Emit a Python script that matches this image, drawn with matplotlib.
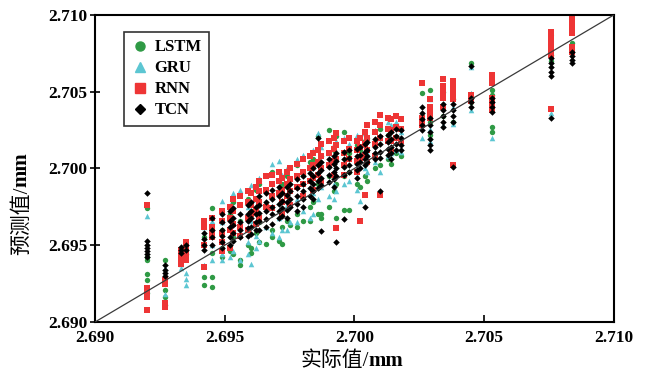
#!/usr/bin/env python3
"""Predicted vs actual scatter for LSTM / GRU / RNN / TCN."""
import matplotlib
matplotlib.use("Agg")
import matplotlib.pyplot as plt
from matplotlib.lines import Line2D

# actual values (one entry per column of samples)
actual = [
    2.6920, 2.6927, 2.6933, 2.6935, 2.6942, 2.6945,
    2.6949, 2.6952, 2.6953, 2.6956, 2.6959, 2.6960, 2.6962, 2.6963, 2.6966, 2.6968,
    2.6971, 2.6972, 2.6974, 2.6975, 2.6978, 2.6980, 2.6983, 2.6984, 2.6986, 2.6987,
    2.6990, 2.6992, 2.6993, 2.6996, 2.6998, 2.7001, 2.7002, 2.7004, 2.7005, 2.7008,
    2.7010, 2.7013, 2.7014, 2.7016, 2.7018,
    2.7026, 2.7029, 2.7034, 2.7038, 2.7045, 2.7053, 2.7076, 2.7084,
]

lstm = [
    [2.6974, 2.6942, 2.6940, 2.6931, 2.6927, 2.6919],
    [2.6940, 2.6921, 2.6916, 2.6911],
    [2.6941],
    [2.6944],
    [2.6955, 2.6929, 2.6924],
    [2.6974, 2.6945, 2.6929, 2.6923],
    [2.6960, 2.6948, 2.6942],
    [2.6970, 2.6946],
    [2.6978, 2.6955, 2.6944],
    [2.6966, 2.6940, 2.6937],
    [2.6980, 2.6950],
    [2.6972, 2.6948, 2.6945],
    [2.6986, 2.6958],
    [2.6990, 2.6965, 2.6952],
    [2.6976, 2.6951],
    [2.6998, 2.6960, 2.6955],
    [2.6985, 2.6953],
    [2.6990, 2.6962, 2.6951],
    [2.6995, 2.6966],
    [2.6985, 2.6963],
    [2.7002, 2.6970, 2.6962],
    [2.6996, 2.6966],
    [2.7004, 2.6975, 2.6966],
    [2.7006, 2.6978],
    [2.7021, 2.6990, 2.6970],
    [2.7008, 2.6970, 2.6968],
    [2.7025, 2.6995, 2.6975],
    [2.7012, 2.6985],
    [2.7021, 2.6968, 2.6990],
    [2.7024, 2.6995, 2.6973],
    [2.7010, 2.6998, 2.6973],
    [2.7015, 2.6990],
    [2.7012, 2.6988],
    [2.7018, 2.6995],
    [2.7020, 2.6992],
    [2.7015, 2.7000],
    [2.7026, 2.7002],
    [2.7022, 2.7006],
    [2.7025, 2.7003],
    [2.7028, 2.7010],
    [2.7026, 2.7008],
    [2.7049, 2.7028],
    [2.7051, 2.7030, 2.7022],
    [2.7050, 2.7034],
    [2.7045, 2.7030],
    [2.7069, 2.7046, 2.7043],
    [2.7051, 2.7048, 2.7027, 2.7024],
    [2.7074, 2.7070],
    [2.7082],
]

gru = [
    [2.6969, 2.6923, 2.6921],
    [2.6935, 2.6918],
    [2.6938, 2.6935],
    [2.6932, 2.6928, 2.6924],
    [2.6962, 2.6937],
    [2.6966, 2.6950, 2.6940],
    [2.6979, 2.6965, 2.6944, 2.6940],
    [2.6976, 2.6950, 2.6942],
    [2.6984, 2.6958, 2.6946],
    [2.6986, 2.6962, 2.6940],
    [2.6975, 2.6952, 2.6944],
    [2.6989, 2.6966, 2.6938],
    [2.6980, 2.6956, 2.6948],
    [2.6994, 2.6970, 2.6953],
    [2.6996, 2.6962],
    [2.7003, 2.6975, 2.6958],
    [2.7005, 2.6968, 2.6955],
    [2.6996, 2.6960],
    [2.7000, 2.6976, 2.6960],
    [2.6994, 2.6965],
    [2.7006, 2.6980, 2.6965],
    [2.7009, 2.6972],
    [2.7000, 2.6968],
    [2.7012, 2.6984, 2.6970],
    [2.7023, 2.6980],
    [2.7014, 2.6988],
    [2.7010, 2.6982],
    [2.7016, 2.6990, 2.6980],
    [2.7018, 2.6985],
    [2.7020, 2.6990],
    [2.7016, 2.6992],
    [2.7022, 2.6995, 2.6986],
    [2.7008, 2.6979],
    [2.7023, 2.7000],
    [2.7010, 2.6998],
    [2.7025, 2.7004],
    [2.7020, 2.6998],
    [2.7030, 2.7008],
    [2.7028, 2.7010],
    [2.7030, 2.7012],
    [2.7024, 2.7011],
    [2.7036, 2.7020],
    [2.7045, 2.7026, 2.7018],
    [2.7042, 2.7028],
    [2.7040, 2.7029],
    [2.7066, 2.7049, 2.7038],
    [2.7020],
    [2.7089, 2.7073, 2.7036],
    [2.7080],
]

rnn = [
    [2.6976, 2.6922, 2.6919, 2.6916, 2.6908],
    [2.6927, 2.6925, 2.6912, 2.6910],
    [2.6947, 2.6943, 2.6940, 2.6938],
    [2.6952, 2.6948, 2.6944, 2.6940],
    [2.6966, 2.6962, 2.6950, 2.6936],
    [2.6968, 2.6962, 2.6958, 2.6955],
    [2.6972, 2.6966, 2.6958, 2.6952, 2.6946],
    [2.6975, 2.6968, 2.6960, 2.6948],
    [2.6980, 2.6972, 2.6964, 2.6958],
    [2.6982, 2.6976, 2.6962, 2.6956],
    [2.6985, 2.6978, 2.6968, 2.6960],
    [2.6984, 2.6976, 2.6970],
    [2.6988, 2.6980, 2.6972, 2.6964],
    [2.6992, 2.6985, 2.6978, 2.6968],
    [2.6995, 2.6986, 2.6975],
    [2.6996, 2.6990, 2.6982, 2.6974],
    [2.6998, 2.6992, 2.6984],
    [2.6994, 2.6986, 2.6978, 2.6970],
    [2.6998, 2.6990, 2.6982],
    [2.7000, 2.6993, 2.6985, 2.6976],
    [2.7003, 2.6995, 2.6988],
    [2.7006, 2.6998, 2.6990, 2.6982],
    [2.7008, 2.7000, 2.6992],
    [2.7010, 2.7002, 2.6994, 2.6986],
    [2.7012, 2.7004, 2.6996],
    [2.7016, 2.7008, 2.7000, 2.6992],
    [2.7018, 2.7010, 2.7002],
    [2.7020, 2.7013, 2.7005, 2.6996],
    [2.7023, 2.7015, 2.7006, 2.6961],
    [2.7018, 2.7010, 2.7002, 2.6996],
    [2.7020, 2.7013, 2.7006],
    [2.7018, 2.7012, 2.7005, 2.6998],
    [2.7020, 2.7014, 2.7007, 2.6966],
    [2.7024, 2.7016, 2.7009, 2.6983],
    [2.7028, 2.7020, 2.7012, 2.7004],
    [2.7030, 2.7024, 2.7016, 2.7008],
    [2.7035, 2.7028, 2.7020, 2.6983],
    [2.7033, 2.7026, 2.7018],
    [2.7032, 2.7025, 2.7018, 2.7012],
    [2.7034, 2.7027, 2.7020],
    [2.7032, 2.7026, 2.7018],
    [2.7056, 2.7033, 2.7030, 2.7028],
    [2.7045, 2.7040, 2.7036, 2.7033],
    [2.7058, 2.7054, 2.7050, 2.7046, 2.7040],
    [2.7057, 2.7053, 2.7049, 2.7045, 2.7002],
    [2.7048, 2.7044],
    [2.7061, 2.7058, 2.7056, 2.7046, 2.7042, 2.7038],
    [2.7089, 2.7086, 2.7083, 2.7080, 2.7077, 2.7074, 2.7039],
    [2.7099, 2.7095, 2.7091, 2.7088, 2.7079, 2.7076],
]

tcn = [
    [2.6984, 2.6953, 2.6950, 2.6948, 2.6946, 2.6944, 2.6942],
    [2.6937, 2.6934, 2.6932, 2.6930],
    [2.6949, 2.6947, 2.6945],
    [2.6950, 2.6947],
    [2.6958, 2.6954, 2.6950, 2.6947],
    [2.6968, 2.6960, 2.6955, 2.6950],
    [2.6970, 2.6965, 2.6960, 2.6956, 2.6952, 2.6948],
    [2.6972, 2.6966, 2.6962, 2.6955, 2.6950],
    [2.6974, 2.6968, 2.6963, 2.6958, 2.6953],
    [2.6970, 2.6965, 2.6960, 2.6955],
    [2.6976, 2.6970, 2.6966, 2.6961, 2.6956],
    [2.6978, 2.6972, 2.6968, 2.6962, 2.6957],
    [2.6975, 2.6970, 2.6965, 2.6960],
    [2.6982, 2.6976, 2.6971, 2.6966, 2.6960],
    [2.6984, 2.6978, 2.6972, 2.6967, 2.6962],
    [2.6986, 2.6980, 2.6975, 2.6970, 2.6964],
    [2.6988, 2.6982, 2.6977, 2.6972, 2.6968],
    [2.6984, 2.6979, 2.6974, 2.6969],
    [2.6988, 2.6983, 2.6978, 2.6973, 2.6968],
    [2.6990, 2.6985, 2.6980, 2.6975],
    [2.6993, 2.6987, 2.6982, 2.6977, 2.6972],
    [2.6995, 2.6990, 2.6985, 2.6980, 2.6975],
    [2.6997, 2.6992, 2.6987, 2.6982],
    [2.7000, 2.6995, 2.6990, 2.6985, 2.6980],
    [2.7020, 2.7002, 2.6997, 2.6992, 2.6987],
    [2.7004, 2.6999, 2.6994, 2.6989, 2.6959],
    [2.7006, 2.7001, 2.6996, 2.6991],
    [2.7008, 2.7003, 2.6998, 2.6993, 2.6988],
    [2.7010, 2.7005, 2.7000, 2.6995, 2.6952],
    [2.7011, 2.7006, 2.7001, 2.6996, 2.6967],
    [2.7012, 2.7007, 2.7002, 2.6998],
    [2.7013, 2.7008, 2.7003, 2.6999, 2.6994],
    [2.7014, 2.7009, 2.7004, 2.7000],
    [2.7016, 2.7011, 2.7006, 2.7002, 2.6975],
    [2.7017, 2.7012, 2.7008, 2.7004],
    [2.7019, 2.7014, 2.7010, 2.7006],
    [2.7021, 2.7016, 2.7011, 2.7007, 2.6985],
    [2.7022, 2.7017, 2.7013, 2.7009],
    [2.7024, 2.7019, 2.7014, 2.7010, 2.7006],
    [2.7026, 2.7021, 2.7016, 2.7012],
    [2.7025, 2.7020, 2.7015, 2.7012],
    [2.7040, 2.7036, 2.7032, 2.7028, 2.7025],
    [2.7033, 2.7028, 2.7024, 2.7019, 2.7015, 2.7012],
    [2.7042, 2.7038, 2.7034, 2.7030, 2.7027],
    [2.7042, 2.7038, 2.7034, 2.7030, 2.7001],
    [2.7067, 2.7046, 2.7043, 2.7040],
    [2.7046, 2.7043, 2.7040, 2.7037],
    [2.7072, 2.7069, 2.7066, 2.7063, 2.7060, 2.7033],
    [2.7076, 2.7073, 2.7071, 2.7069],
]

ticks = [2.690, 2.695, 2.700, 2.705, 2.710]

plt.rcParams["font.family"] = ["Liberation Serif", "Noto Sans CJK SC"]


def flatten(preds):
    xs, ys = [], []
    for a, col in zip(actual, preds):
        for v in col:
            xs.append(a)
            ys.append(v)
    return xs, ys


fig = plt.figure(figsize=(6.48, 3.76), dpi=100)
ax = fig.add_axes([0.147, 0.144, 0.800, 0.816])

series = [
    ("LSTM", lstm, "#2f9a45", "o", 15),
    ("GRU", gru, "#5cc6d2", "^", 16),
    ("RNN", rnn, "#ee3535", "s", 14),
    ("TCN", tcn, "#000000", "D", 11),
]
for name, preds, color, marker, size in series:
    xs, ys = flatten(preds)
    ax.scatter(xs, ys, s=size, c=color, marker=marker, linewidths=0, zorder=2)

ax.plot([ticks[0], ticks[-1]], [ticks[0], ticks[-1]], color="#3a3a3a", lw=0.9, zorder=3)

ax.set_xlim(2.690, 2.710)
ax.set_ylim(2.690, 2.710)
ax.set_xticks(ticks)
ax.set_yticks(ticks)
ax.set_xticklabels([f"{t:.3f}" for t in ticks], fontsize=12.5, fontweight="bold")
ax.set_yticklabels([f"{t:.3f}" for t in ticks], fontsize=12.5, fontweight="bold")
ax.tick_params(axis="x", direction="in", length=5, width=1.2, pad=6)
ax.tick_params(axis="y", direction="inout", length=7, width=1.2, pad=2)
for sp in ax.spines.values():
    sp.set_linewidth(1.5)

# axis labels: Chinese part regular, "mm" bold serif
xl = ax.annotate("实际值/", xy=(0.527, -0.127), xycoords="axes fraction",
                 ha="right", va="center", fontsize=15)
ax.annotate("mm", xy=(1, 0.5), xycoords=xl, ha="left", va="center",
            fontsize=15, fontweight="bold", family="Liberation Serif")
yl = ax.annotate("预测值/", xy=(-0.1415, 0.441), xycoords="axes fraction",
                 ha="center", va="top", rotation=90, fontsize=15)
ax.annotate("mm", xy=(0.5, 1), xycoords=yl, ha="center", va="bottom", rotation=90,
            fontsize=15, fontweight="bold", family="Liberation Serif")

handles = [Line2D([], [], ls="none", marker=m, color=c, markersize=6.5 if m != "D" else 5.5)
           for _, _, c, m, _ in series]
leg = ax.legend(handles, [s[0] for s in series], loc="upper left",
                bbox_to_anchor=(0.055, 0.945), borderaxespad=0, frameon=True,
                fancybox=False, handlelength=1.0, handletextpad=0.4,
                labelspacing=0.3, borderpad=0.45,
                prop={"family": "Liberation Serif", "weight": "bold", "size": 12})
leg.get_frame().set_edgecolor("black")
leg.get_frame().set_linewidth(1.2)

fig.savefig("out.png", dpi=100)
